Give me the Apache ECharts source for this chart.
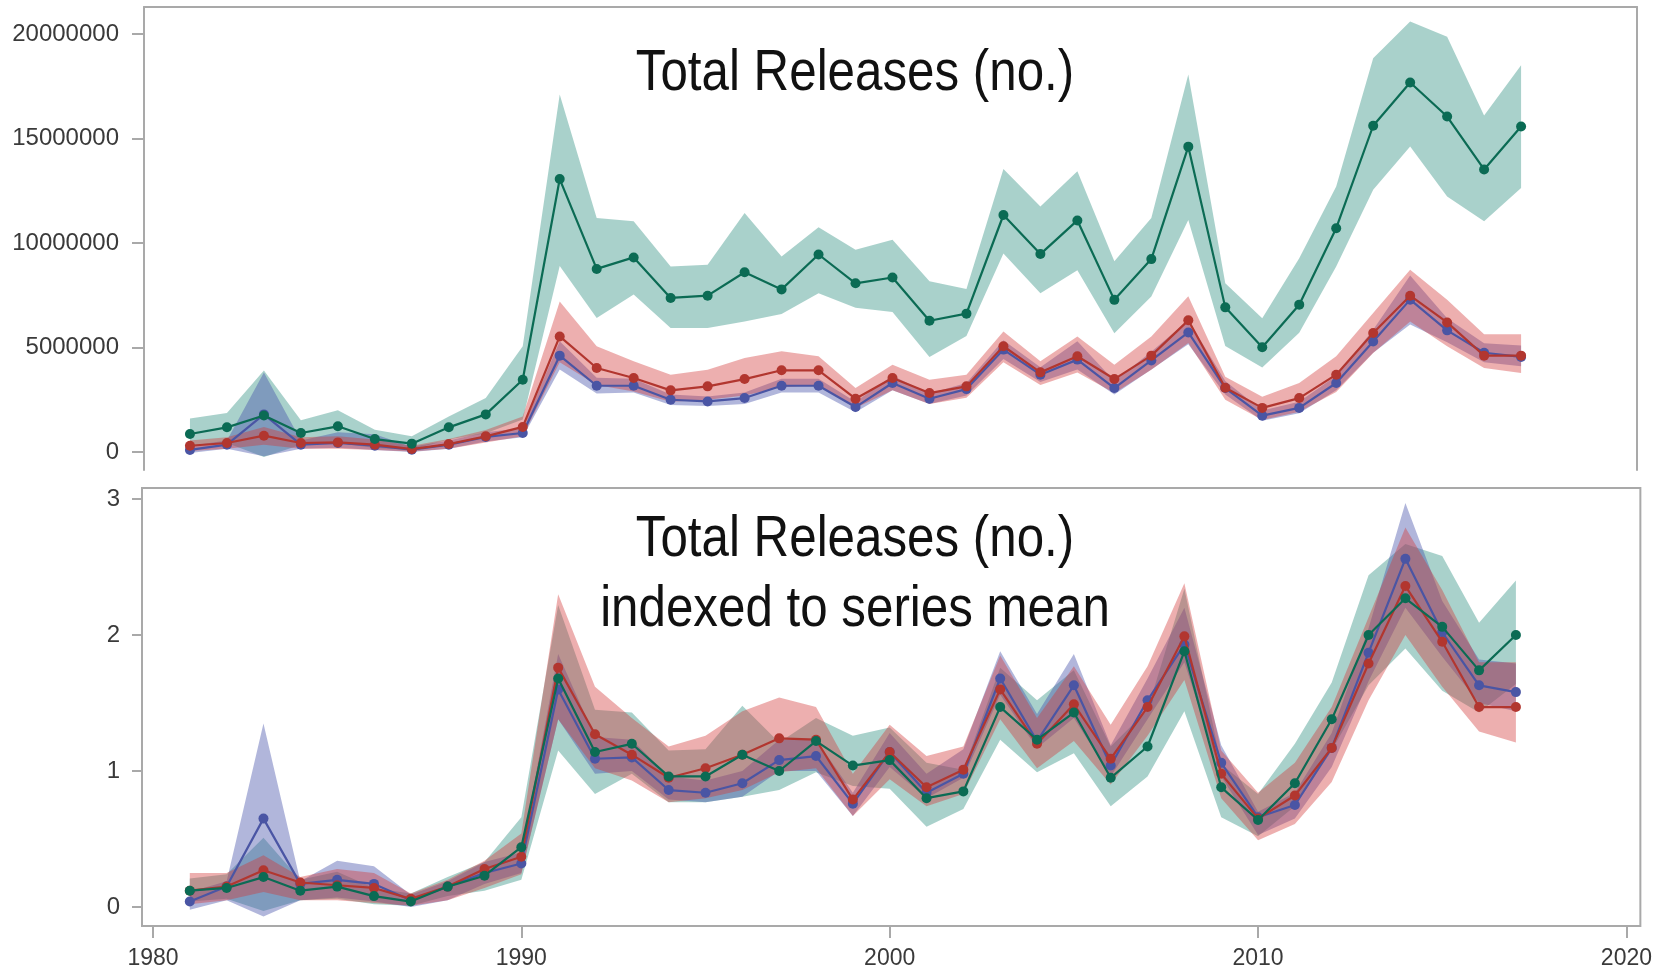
<!DOCTYPE html>
<html>
<head>
<meta charset="utf-8">
<title>Total Releases</title>
<script src="https://cdn.jsdelivr.net/npm/echarts@6/dist/echarts.min.js"></script>
<style>
  html, body { margin: 0; padding: 0; background: #ffffff; }
  #chart { width: 1655px; height: 975px; }
</style>
</head>
<body>
<div id="chart"></div>
<script>
// Years on the shared time axis
const years = [1981, 1982, 1983, 1984, 1985, 1986, 1987, 1988, 1989, 1990,
               1991, 1992, 1993, 1994, 1995, 1996, 1997, 1998, 1999, 2000,
               2001, 2002, 2003, 2004, 2005, 2006, 2007, 2008, 2009, 2010,
               2011, 2012, 2013, 2014, 2015, 2016, 2017];

// Upper panel: total releases, in millions
const totalGreen = [0.86, 1.18, 1.75, 0.91, 1.23, 0.62, 0.40, 1.18, 1.80, 3.46,
                    13.06, 8.76, 9.31, 7.37, 7.48, 8.60, 7.78, 9.45, 8.07, 8.35,
                    6.28, 6.62, 11.34, 9.47, 11.08, 7.28, 9.23, 14.61, 6.92, 5.01,
                    7.05, 10.71, 15.61, 17.68, 16.05, 13.52, 15.57];
const totalGreenLo = [0.27, 0.43, -0.24, 0.35, 0.43, 0.19, 0.11, 0.60, 0.90, 1.55,
                      8.90, 6.41, 7.53, 5.93, 5.93, 6.25, 6.60, 7.60, 6.90, 6.70,
                      4.55, 5.55, 9.50, 7.60, 8.70, 5.68, 7.44, 11.10, 5.07, 4.04,
                      5.70, 8.88, 12.55, 14.62, 12.23, 11.04, 12.63];
const totalGreenHi = [1.60, 1.87, 3.90, 1.52, 2.00, 1.07, 0.75, 1.70, 2.58, 5.06,
                      17.10, 11.20, 11.04, 8.88, 8.96, 11.43, 9.36, 10.75, 9.68, 10.16,
                      8.17, 7.80, 13.54, 11.75, 13.43, 9.13, 11.20, 18.06, 8.07, 6.40,
                      9.27, 12.70, 18.84, 20.60, 19.87, 16.10, 18.50];

const totalRed = [0.30, 0.43, 0.78, 0.43, 0.46, 0.35, 0.14, 0.38, 0.75, 1.20,
                  5.53, 4.02, 3.54, 2.95, 3.14, 3.49, 3.91, 3.91, 2.55, 3.54,
                  2.82, 3.14, 5.06, 3.81, 4.58, 3.49, 4.61, 6.30, 3.07, 2.11,
                  2.58, 3.70, 5.69, 7.48, 6.20, 4.61, 4.61];
const totalRedLo = [0.05, 0.15, 0.35, 0.15, 0.15, 0.10, 0.02, 0.15, 0.45, 0.75,
                    4.30, 3.20, 2.90, 2.40, 2.50, 2.70, 3.10, 3.20, 2.10, 2.95,
                    2.30, 2.60, 4.30, 3.20, 3.80, 2.82, 3.94, 5.21, 2.50, 1.53,
                    1.92, 2.87, 4.74, 6.25, 5.06, 4.02, 3.78];
const totalRedHi = [0.55, 0.70, 1.20, 0.70, 0.75, 0.60, 0.30, 0.62, 1.05, 1.70,
                    7.20, 5.06, 4.34, 3.70, 3.94, 4.50, 4.82, 4.58, 3.06, 4.18,
                    3.46, 3.70, 5.77, 4.34, 5.53, 4.18, 5.53, 7.45, 3.60, 2.64,
                    3.30, 4.58, 6.65, 8.72, 7.29, 5.63, 5.63];

const totalBlue = [0.10, 0.35, 1.80, 0.35, 0.43, 0.30, 0.11, 0.35, 0.72, 0.91,
                   4.61, 3.17, 3.17, 2.50, 2.42, 2.58, 3.17, 3.17, 2.15, 3.30,
                   2.55, 3.01, 4.90, 3.70, 4.42, 3.06, 4.38, 5.72, 3.06, 1.74,
                   2.11, 3.30, 5.29, 7.29, 5.82, 4.75, 4.55];
const totalBlueLo = [-0.05, 0.15, -0.20, 0.15, 0.20, 0.10, 0.00, 0.15, 0.50, 0.70,
                     3.95, 2.80, 2.85, 2.25, 2.20, 2.30, 2.85, 2.85, 1.90, 2.95,
                     2.30, 2.70, 4.45, 3.35, 3.95, 2.75, 3.95, 5.15, 2.75, 1.50,
                     1.85, 2.95, 4.75, 6.10, 5.25, 4.30, 4.10];
const totalBlueHi = [0.30, 0.55, 3.80, 0.55, 0.95, 0.85, 0.25, 0.55, 0.95, 1.15,
                     5.30, 3.55, 3.50, 2.75, 2.65, 2.85, 3.50, 3.50, 2.40, 3.65,
                     2.80, 3.30, 5.35, 4.05, 5.30, 3.40, 4.80, 6.30, 3.40, 1.98,
                     2.40, 3.65, 5.85, 8.45, 6.40, 5.20, 5.10];

// Lower panel: the same series indexed to their own mean
const idxGreen = [0.12, 0.14, 0.22, 0.12, 0.15, 0.08, 0.04, 0.15, 0.23, 0.44,
                  1.68, 1.14, 1.20, 0.96, 0.96, 1.12, 1.00, 1.22, 1.04, 1.08,
                  0.80, 0.85, 1.47, 1.23, 1.43, 0.95, 1.18, 1.88, 0.88, 0.64,
                  0.91, 1.38, 2.00, 2.27, 2.06, 1.74, 2.00];
const idxGreenLo = [0.04, 0.06, -0.03, 0.05, 0.06, 0.02, 0.01, 0.08, 0.12, 0.20,
                    1.15, 0.83, 0.98, 0.77, 0.77, 0.81, 0.86, 0.99, 0.89, 0.87,
                    0.59, 0.72, 1.23, 0.99, 1.13, 0.74, 0.96, 1.44, 0.66, 0.52,
                    0.74, 1.15, 1.63, 1.90, 1.59, 1.43, 1.64];
const idxGreenHi = [0.21, 0.24, 0.51, 0.20, 0.26, 0.14, 0.10, 0.22, 0.33, 0.66,
                    2.22, 1.45, 1.43, 1.15, 1.16, 1.48, 1.21, 1.39, 1.26, 1.32,
                    1.06, 1.01, 1.76, 1.52, 1.74, 1.18, 1.45, 2.34, 1.05, 0.83,
                    1.20, 1.65, 2.44, 2.67, 2.58, 2.09, 2.40];

const idxRed = [0.12, 0.15, 0.27, 0.18, 0.16, 0.14, 0.06, 0.15, 0.28, 0.37,
                1.76, 1.27, 1.12, 0.95, 1.02, 1.12, 1.24, 1.23, 0.79, 1.14,
                0.88, 1.01, 1.60, 1.20, 1.49, 1.09, 1.47, 1.99, 0.98, 0.65,
                0.82, 1.17, 1.79, 2.36, 1.95, 1.47, 1.47];
const idxRedLo = [0.02, 0.05, 0.11, 0.05, 0.05, 0.03, 0.01, 0.05, 0.14, 0.24,
                  1.38, 1.02, 0.93, 0.77, 0.80, 0.86, 0.99, 1.02, 0.67, 0.94,
                  0.74, 0.83, 1.38, 1.02, 1.22, 0.90, 1.26, 1.67, 0.80, 0.49,
                  0.61, 0.92, 1.52, 2.00, 1.62, 1.29, 1.21];
const idxRedHi = [0.25, 0.25, 0.38, 0.22, 0.28, 0.25, 0.10, 0.20, 0.34, 0.54,
                  2.30, 1.62, 1.39, 1.18, 1.26, 1.44, 1.54, 1.47, 0.98, 1.34,
                  1.11, 1.18, 1.85, 1.39, 1.77, 1.34, 1.77, 2.38, 1.15, 0.84,
                  1.06, 1.47, 2.13, 2.79, 2.33, 1.80, 1.80];

const idxBlue = [0.04, 0.15, 0.65, 0.17, 0.20, 0.17, 0.05, 0.15, 0.25, 0.32,
                 1.60, 1.09, 1.10, 0.86, 0.84, 0.91, 1.08, 1.11, 0.76, 1.14,
                 0.84, 0.98, 1.68, 1.22, 1.63, 1.04, 1.52, 1.93, 1.06, 0.66,
                 0.75, 1.17, 1.87, 2.56, 2.02, 1.63, 1.58];
const idxBlueLo = [-0.02, 0.05, -0.07, 0.05, 0.07, 0.04, 0.00, 0.05, 0.17, 0.25,
                   1.38, 0.98, 1.00, 0.79, 0.77, 0.81, 1.00, 1.00, 0.67, 1.03,
                   0.80, 0.95, 1.56, 1.17, 1.39, 0.96, 1.38, 1.80, 0.96, 0.53,
                   0.65, 1.03, 1.66, 2.20, 1.84, 1.50, 1.44];
const idxBlueHi = [0.11, 0.19, 1.35, 0.19, 0.34, 0.30, 0.09, 0.19, 0.33, 0.40,
                   1.86, 1.25, 1.23, 0.96, 0.93, 1.00, 1.23, 1.23, 0.84, 1.28,
                   0.98, 1.16, 1.88, 1.42, 1.86, 1.19, 1.68, 2.20, 1.19, 0.70,
                   0.84, 1.28, 2.05, 2.97, 2.25, 1.82, 1.79];

// Tick positions
const xTicks = [1980, 1990, 2000, 2010, 2020];
const totalTicks = [0, 5000000, 10000000, 15000000, 20000000];
const idxTicks = [0, 1, 2, 3];

const MILLION = 1000000;
const FONT = '"Liberation Sans", Arial, Helvetica, sans-serif';
const FRAME = '#a9a9a9';

const COLORS = {
  green: { line: '#0b6b54', band: 'rgba(40, 140, 125, 0.40)' },
  red:   { line: '#b2362f', band: 'rgba(210, 55, 55, 0.40)' },
  blue:  { line: '#4a55a4', band: 'rgba(70, 80, 170, 0.42)' }
};

function scaled(arr, k) { return arr.map(v => v * k); }

// Confidence band drawn as a single polygon through the axis scales
function bandSeries(axisIdx, lo, hi, fill) {
  return {
    type: 'custom',
    xAxisIndex: axisIdx,
    yAxisIndex: axisIdx,
    silent: true,
    clip: true,
    z: 1,
    data: years.map((y, i) => [y, lo[i], hi[i]]),
    renderItem: function (params, api) {
      if (params.dataIndex !== 0) return null;
      const pts = [];
      for (let i = 0; i < years.length; i++) pts.push(api.coord([years[i], hi[i]]));
      for (let i = years.length - 1; i >= 0; i--) pts.push(api.coord([years[i], lo[i]]));
      return { type: 'polygon', shape: { points: pts }, style: { fill: fill, stroke: null } };
    }
  };
}

function lineSeries(axisIdx, values, color, z) {
  return {
    type: 'line',
    xAxisIndex: axisIdx,
    yAxisIndex: axisIdx,
    data: years.map((y, i) => [y, values[i]]),
    symbol: 'circle',
    symbolSize: 10,
    showSymbol: true,
    lineStyle: { color: color, width: 2.2 },
    itemStyle: { color: color },
    z: z,
    silent: true
  };
}

const chart = echarts.init(document.getElementById('chart'), null, { renderer: 'canvas' });

const xLabelStyle = { fontFamily: FONT, fontSize: 23, color: '#3a3a3a' };
const yLabelStyle = { fontFamily: FONT, fontSize: 24, color: '#3a3a3a' };

const option = {
  animation: false,
  backgroundColor: '#ffffff',
  grid: [
    { left: 144, top: 7, width: 1493, height: 463, show: false },
    { left: 142, top: 488, width: 1504, height: 438, show: true,
      borderColor: FRAME, borderWidth: 2, backgroundColor: 'transparent' }
  ],
  xAxis: [
    { gridIndex: 0, type: 'value', min: 1979.757, max: 2020.135, position: 'top',
      axisLine: { show: true, onZero: false, lineStyle: { color: FRAME, width: 2 } },
      axisTick: { show: false }, axisLabel: { show: false }, splitLine: { show: false } },
    { gridIndex: 1, type: 'value', min: 1979.7025, max: 2020.3786, position: 'bottom',
      axisLine: { show: false, onZero: false },
      axisTick: { show: true, length: 12, customValues: xTicks, lineStyle: { color: FRAME, width: 2 } },
      axisLabel: Object.assign({ customValues: xTicks, margin: 21, formatter: v => String(v) }, xLabelStyle),
      splitLine: { show: false } }
  ],
  yAxis: [
    { gridIndex: 0, type: 'value', min: -861244, max: 21291866, position: 'left',
      axisLine: { show: true, onZero: false, lineStyle: { color: FRAME, width: 2 } },
      axisTick: { show: true, length: 12, customValues: totalTicks, lineStyle: { color: FRAME, width: 2 } },
      axisLabel: Object.assign({ customValues: totalTicks, margin: 25, formatter: v => String(v) }, yLabelStyle),
      splitLine: { show: false } },
    { gridIndex: 1, type: 'value', min: -0.1397, max: 3.0809, position: 'left',
      axisLine: { show: false, onZero: false },
      axisTick: { show: true, length: 10, customValues: idxTicks, lineStyle: { color: FRAME, width: 2 } },
      axisLabel: Object.assign({ customValues: idxTicks, margin: 22, formatter: v => String(v) }, yLabelStyle),
      splitLine: { show: false } },
    { gridIndex: 0, type: 'value', min: -861244, max: 21291866, position: 'right',
      axisLine: { show: true, onZero: false, lineStyle: { color: FRAME, width: 2 } },
      axisTick: { show: false }, axisLabel: { show: false }, splitLine: { show: false } }
  ],
  graphic: [
    { type: 'text', x: 855, y: 74, scaleX: 0.85, z: 100,
      style: { text: 'Total Releases (no.)', font: '58px ' + FONT, fill: '#111111',
               align: 'center', verticalAlign: 'middle', textAlign: 'center', textVerticalAlign: 'middle' } },
    { type: 'text', x: 855, y: 540, scaleX: 0.85, z: 100,
      style: { text: 'Total Releases (no.)', font: '58px ' + FONT, fill: '#111111',
               align: 'center', verticalAlign: 'middle', textAlign: 'center', textVerticalAlign: 'middle' } },
    { type: 'text', x: 855, y: 610, scaleX: 0.85, z: 100,
      style: { text: 'indexed to series mean', font: '58px ' + FONT, fill: '#111111',
               align: 'center', verticalAlign: 'middle', textAlign: 'center', textVerticalAlign: 'middle' } }
  ],
  series: [
    // upper panel
    bandSeries(0, scaled(totalGreenLo, MILLION), scaled(totalGreenHi, MILLION), COLORS.green.band),
    bandSeries(0, scaled(totalBlueLo, MILLION), scaled(totalBlueHi, MILLION), COLORS.blue.band),
    bandSeries(0, scaled(totalRedLo, MILLION), scaled(totalRedHi, MILLION), COLORS.red.band),
    lineSeries(0, scaled(totalBlue, MILLION), COLORS.blue.line, 3),
    lineSeries(0, scaled(totalRed, MILLION), COLORS.red.line, 4),
    lineSeries(0, scaled(totalGreen, MILLION), COLORS.green.line, 5),
    // lower panel
    bandSeries(1, idxGreenLo, idxGreenHi, COLORS.green.band),
    bandSeries(1, idxBlueLo, idxBlueHi, COLORS.blue.band),
    bandSeries(1, idxRedLo, idxRedHi, COLORS.red.band),
    lineSeries(1, idxBlue, COLORS.blue.line, 3),
    lineSeries(1, idxRed, COLORS.red.line, 4),
    lineSeries(1, idxGreen, COLORS.green.line, 5)
  ]
};

chart.setOption(option);
</script>
</body>
</html>
